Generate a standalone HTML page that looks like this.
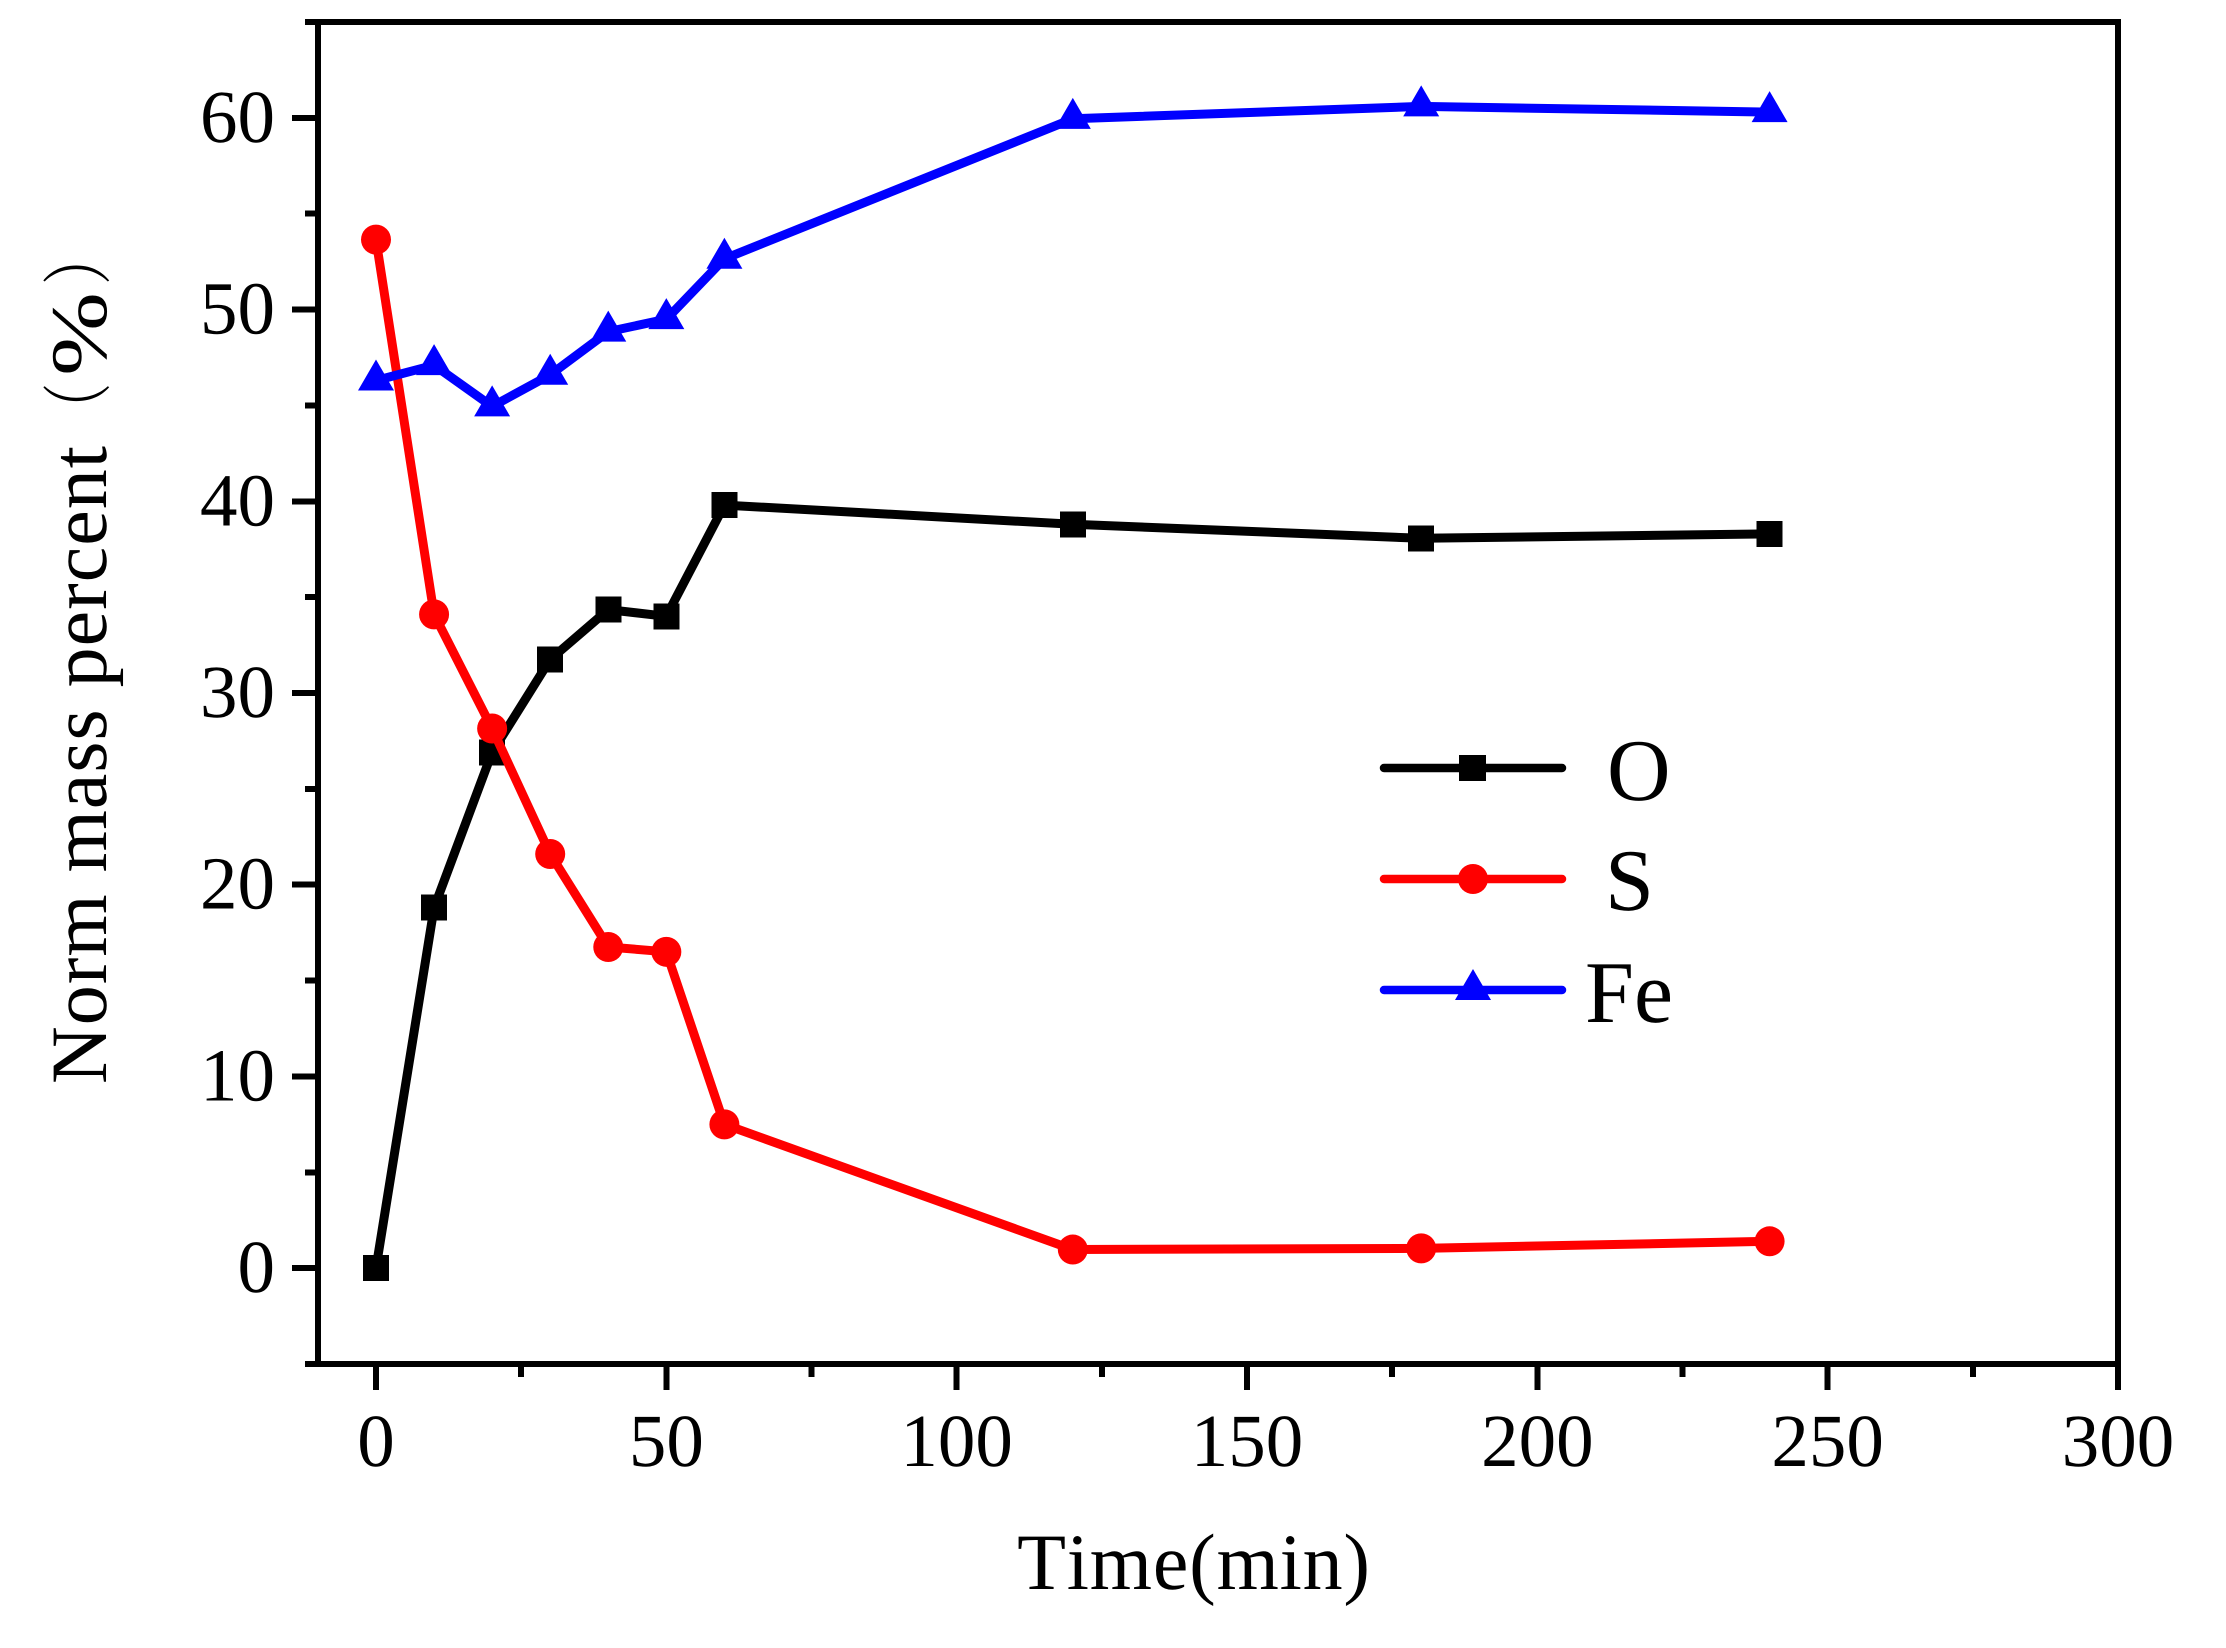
<!DOCTYPE html>
<html lang="en">
<head>
<meta charset="utf-8">
<title>Norm mass percent vs Time</title>
<style>
html,body{margin:0;padding:0;background:#fff;width:2226px;height:1648px;overflow:hidden}
svg{display:block}
text{font-family:"Liberation Serif","Noto Serif CJK SC",serif;fill:#000;font-kerning:none;text-rendering:geometricPrecision}
</style>
</head>
<body>
<svg id="chart" xmlns="http://www.w3.org/2000/svg" width="2226" height="1648" viewBox="0 0 2226 1648">
  <rect x="0" y="0" width="2226" height="1648" fill="#fff"/>
  <g id="axes"></g>
  <g id="series"></g>
  <text x="1194" y="1589" font-size="80" letter-spacing="0.8" text-anchor="middle">Time(min)</text>
  <g>
    <text transform="translate(106 1084) rotate(-90)" font-size="80" letter-spacing="1">Norm mass percent</text>
    <text transform="translate(103 435) rotate(-90) scale(.65 .88)" font-size="80">（</text>
    <text transform="translate(106 376) rotate(-90) scale(1.26 1)" font-size="80">%</text>
    <text transform="translate(103 285) rotate(-90) scale(.7 .88)" font-size="80">）</text>
  </g>
  <g>
    <g>
      <line x1="1384" y1="768" x2="1562" y2="768" stroke="#000" stroke-width="8.5" stroke-linecap="round"/>
      <rect x="1459" y="755" width="27" height="26" fill="#000" shape-rendering="crispEdges"/>
      <text x="1607" y="800" font-size="88">O</text>
    </g>
    <g>
      <line x1="1384" y1="879" x2="1562" y2="879" stroke="#f00" stroke-width="8.5" stroke-linecap="round"/>
      <circle cx="1473" cy="879" r="15" fill="#f00"/>
      <text x="1605" y="910" font-size="88">S</text>
    </g>
    <g>
      <line x1="1384" y1="990" x2="1562" y2="990" stroke="#00f" stroke-width="8.5" stroke-linecap="round"/>
      <polygon points="1473,969 1491,1000 1455,1000" fill="#00f"/>
      <text x="1585" y="1022" font-size="88">Fe</text>
    </g>
  </g>
</svg>
<script>
const timeValues = [0, 10, 20, 30, 40, 50, 60, 120, 180, 240];
const oxygenValues = [0, 18.8, 26.9, 31.75, 34.35, 34.0, 39.8, 38.8, 38.07, 38.3];
const sulfurValues = [53.65, 34.1, 28.15, 21.6, 16.75, 16.5, 7.5, 0.97, 1.03, 1.4];
const ironValues = [46.3, 47.1, 44.95, 46.6, 48.85, 49.5, 52.65, 59.95, 60.6, 60.3];
const xTickLabels = [0, 50, 100, 150, 200, 250, 300];
const xMinorTicks = [25, 75, 125, 175, 225, 275];
const yTickLabels = [0, 10, 20, 30, 40, 50, 60];
const yMinorTicks = [-5, 5, 15, 25, 35, 45, 55];
const xDomain = [0, 300];
const yDomain = [-5, 65];

const SVG_NS = 'http://www.w3.org/2000/svg';
const axesLayer = document.getElementById('axes');
const seriesLayer = document.getElementById('series');

function xScale(v) {
  return 376 + (v - xDomain[0]) * (2118 - 376) / (xDomain[1] - xDomain[0]);
}
function yScale(v) {
  return 1364 - (v - yDomain[0]) * (1364 - 22) / (yDomain[1] - yDomain[0]);
}
function makeEl(tag, attrs, parent) {
  const el = document.createElementNS(SVG_NS, tag);
  for (const key in attrs) {
    el.setAttribute(key, attrs[key]);
  }
  parent.appendChild(el);
  return el;
}
function rule(x1, y1, x2, y2, parent) {
  return makeEl('line', { x1: x1, y1: y1, x2: x2, y2: y2, stroke: '#000', 'stroke-width': 6, 'shape-rendering': 'crispEdges' }, parent);
}

/* frame */
const leftSpine = rule(318, 19, 318, 1367, axesLayer);


const rightSpine = rule(2118, 19, 2118, 1390, axesLayer);


const topSpine = rule(305, 22, 2121, 22, axesLayer);


const bottomSpine = rule(305, 1364, 2121, 1364, axesLayer);



/* x ticks */
xTickLabels.forEach(function (v) {
  const x = xScale(v);
  const tick = rule(x, 1364, x, 1390, axesLayer);
  
  
  const label = makeEl('text', { x: x, y: 1466, 'font-size': 75, 'text-anchor': 'middle' }, axesLayer);
  
  
  label.textContent = String(v);
});
xMinorTicks.forEach(function (v) {
  const x = xScale(v);
  const tick = rule(x, 1364, x, 1377, axesLayer);
  
  
});

/* y ticks */
yTickLabels.forEach(function (v) {
  const y = yScale(v);
  const tick = rule(292, y, 318, y, axesLayer);
  
  
  const label = makeEl('text', { x: 275, y: y + 24, 'font-size': 75, 'text-anchor': 'end' }, axesLayer);
  
  
  label.textContent = String(v);
});
yMinorTicks.forEach(function (v) {
  const y = yScale(v);
  const tick = rule(305, y, 318, y, axesLayer);
  
  
});

/* series */
function drawLine(values, color, name) {
  const pts = values.map(function (v, i) {
    return xScale(timeValues[i]).toFixed(1) + ',' + yScale(v).toFixed(1);
  }).join(' ');
  const line = makeEl('polyline', { points: pts, fill: 'none', stroke: color, 'stroke-width': 9, 'stroke-linejoin': 'round' }, seriesLayer);
  
  
}

drawLine(oxygenValues, '#000', 'oxygen');
oxygenValues.forEach(function (v, i) {
  const cx = xScale(timeValues[i]);
  const cy = yScale(v);
  const mark = makeEl('rect', { x: cx - 13, y: cy - 13, width: 26, height: 26, fill: '#000', 'shape-rendering': 'crispEdges' }, seriesLayer);
  
  
});

drawLine(sulfurValues, '#f00', 'sulfur');
sulfurValues.forEach(function (v, i) {
  const mark = makeEl('circle', { cx: xScale(timeValues[i]), cy: yScale(v), r: 15, fill: '#f00' }, seriesLayer);
  
  
});

drawLine(ironValues, '#00f', 'iron');
ironValues.forEach(function (v, i) {
  const cx = xScale(timeValues[i]);
  const cy = yScale(v);
  const pts = cx + ',' + (cy - 21) + ' ' + (cx + 18) + ',' + (cy + 10) + ' ' + (cx - 18) + ',' + (cy + 10);
  const mark = makeEl('polygon', { points: pts, fill: '#00f' }, seriesLayer);
  
  
});
</script>
</body>
</html>
